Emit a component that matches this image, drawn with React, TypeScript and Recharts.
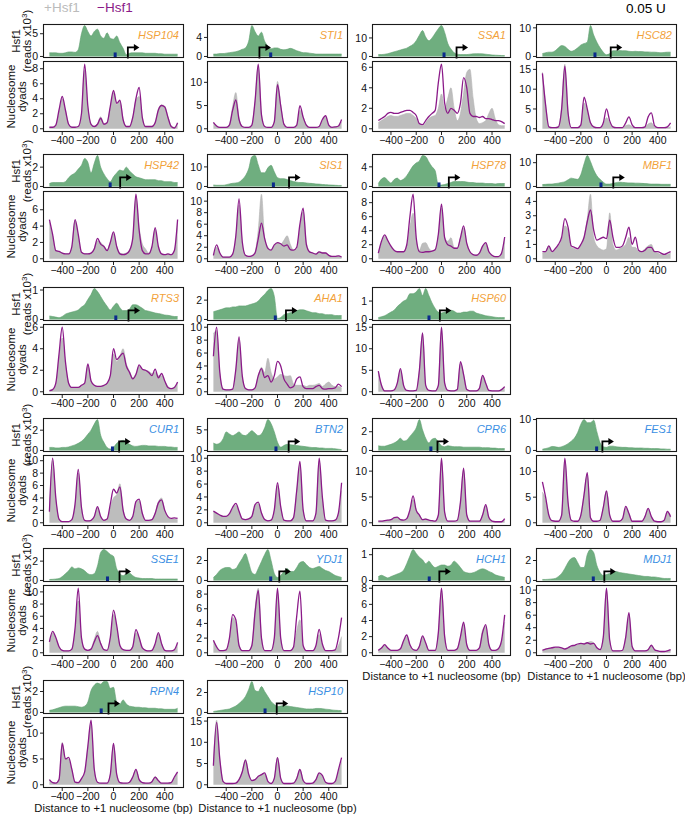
import React from "react";
import { AreaChart, Area, ComposedChart, Line, XAxis, YAxis, ReferenceDot } from "recharts";

// distance to +1 nucleosome (bp), shared by every profile
const BP = [
  -500, -475, -450, -425, -400, -375, -350, -325, -300,
  -275, -250, -225, -200, -175, -150, -125, -100,
  -75, -50, -25, 0, 25, 50, 75, 100,
  125, 150, 175, 200, 225, 250, 275, 300,
  325, 350, 375, 400, 425, 450, 475, 500,
];
const X_TICKS = [-400, -200, 0, 200, 400];

// ---- HSP104
const HSP104_HSF1 = [
  0.8, 0.8, 0.8, 0.7, 0.7, 0.8, 1.0, 1.0, 0.9,
  1.5, 5.0, 6.8, 5.5, 4.5, 5.5, 6.0, 4.5,
  4.0, 5.2, 4.0, 3.8, 4.5, 3.0, 1.8, 0.4,
  0.7, 0.8, 0.8, 0.8, 0.8, 0.7, 0.7, 0.7,
  0.7, 0.6, 0.6, 0.5, 0.5, 0.5, 0.5, 0.5,
];
const HSP104_MINUS = [
  0.2, 0.2, 0.5, 2.5, 4.3, 2.5, 0.6, 0.2, 0.2,
  0.3, 2.0, 8.6, 3.0, 0.6, 0.3, 0.6, 1.4,
  0.6, 0.8, 3.0, 5.1, 3.4, 3.8, 1.2, 0.3,
  0.3, 1.5, 4.0, 5.5, 1.5, 0.3, 0.3, 0.3,
  0.8, 2.5, 3.1, 2.9, 1.5, 0.3, 0.1, 0.8,
];
const HSP104_PLUS = [
  0.2, 0.2, 0.5, 2.3, 4.0, 2.4, 0.6, 0.2, 0.2,
  0.3, 1.8, 7.8, 2.8, 0.6, 0.3, 0.7, 1.6,
  0.7, 0.9, 2.8, 4.8, 3.2, 3.7, 1.3, 0.3,
  0.3, 1.4, 3.8, 4.3, 1.5, 0.3, 0.3, 0.3,
  0.9, 2.6, 3.2, 3.0, 1.6, 0.4, 0.2, 0.7,
];

// ---- STI1
const STI1_HSF1 = [
  0.5, 0.5, 0.6, 0.6, 0.7, 0.8, 0.9, 1.0, 1.2,
  1.5, 1.8, 3.2, 6.5, 5.2, 4.3, 5.1, 3.2,
  2.2, 1.6, 1.8, 1.8, 1.5, 1.4, 1.5, 1.7,
  1.5, 1.2, 1.0, 0.8, 0.8, 0.7, 0.6, 0.5,
  0.5, 0.5, 0.5, 0.5, 0.5, 0.5, 0.5, 0.5,
];
const STI1_MINUS = [
  1.4, 0.6, 0.3, 0.3, 0.3, 0.8, 4.0, 6.2, 2.0,
  0.5, 0.3, 0.3, 0.8, 6.0, 13.9, 3.0, 0.5,
  0.3, 0.3, 1.5, 9.5, 5.0, 1.0, 0.3, 0.3,
  0.3, 0.8, 5.0, 2.5, 0.8, 0.3, 0.3, 0.3,
  0.5, 2.0, 2.8, 0.8, 0.3, 0.4, 0.6, 2.0,
];
const STI1_PLUS = [
  1.3, 0.6, 0.3, 0.3, 0.3, 1.0, 4.8, 7.8, 2.3,
  0.5, 0.3, 0.3, 0.8, 6.0, 13.7, 3.0, 0.5,
  0.3, 0.3, 1.6, 10.2, 5.2, 1.0, 0.3, 0.3,
  0.3, 0.7, 4.0, 2.6, 0.8, 0.3, 0.3, 0.3,
  0.5, 1.8, 2.5, 0.8, 0.3, 0.4, 0.5, 1.5,
];

// ---- SSA1
const SSA1_HSF1 = [
  1.0, 1.0, 1.2, 1.5, 2.0, 2.5, 3.0, 3.5, 4.0,
  4.5, 5.5, 6.5, 8.5, 11.5, 14.0, 10.5, 8.5,
  10.0, 12.5, 15.0, 16.7, 13.0, 7.0, 4.0, 2.0,
  1.2, 1.0, 1.0, 1.0, 1.2, 1.4, 1.5, 1.5,
  1.4, 1.2, 1.0, 0.8, 0.7, 0.6, 0.5, 0.5,
];
const SSA1_MINUS = [
  0.8, 1.0, 1.2, 1.5, 1.6, 1.5, 1.5, 1.6, 1.7,
  1.8, 1.8, 1.6, 1.3, 0.5, 0.4, 0.8, 1.2,
  1.5, 1.8, 4.5, 6.3, 2.5, 1.5, 2.0, 1.8,
  1.5, 2.5, 5.0, 4.0, 1.5, 1.2, 1.2, 1.1,
  1.2, 1.0, 1.0, 0.9, 0.8, 0.8, 0.7, 0.5,
];
const SSA1_PLUS = [
  0.6, 0.8, 1.0, 1.2, 1.3, 1.2, 1.2, 1.3, 1.4,
  1.5, 1.5, 1.3, 1.0, 0.4, 0.3, 0.6, 1.0,
  1.2, 1.3, 2.0, 3.4, 2.0, 3.0, 4.0, 2.0,
  0.8, 1.5, 3.5, 5.5, 5.8, 3.0, 1.0, 0.5,
  0.6, 0.8, 1.5, 2.0, 1.0, 0.4, 0.3, 0.3,
];

// ---- HSC82
const HSC82_HSF1 = [
  1.0, 1.3, 1.5, 1.5, 2.0, 3.0, 3.8, 3.5, 2.5,
  1.8, 2.2, 3.0, 4.0, 4.5, 5.0, 10.8, 7.5,
  5.0, 3.0, 1.5, 0.6, 1.0, 2.0, 2.0, 2.1,
  2.0, 2.0, 1.8, 1.7, 1.8, 1.7, 1.7, 1.6,
  1.6, 1.5, 1.5, 1.4, 1.3, 1.4, 1.5, 1.5,
];
const HSC82_MINUS = [
  14.0, 6.0, 0.5, 0.3, 0.3, 0.5, 5.0, 15.8, 4.0,
  0.3, 0.3, 0.3, 1.0, 8.0, 5.0, 1.5, 0.5,
  0.3, 0.3, 1.5, 5.0, 2.0, 0.5, 0.3, 0.3,
  0.3, 1.5, 3.0, 1.0, 0.3, 0.3, 0.3, 0.5,
  3.0, 4.0, 0.8, 0.3, 0.3, 0.3, 0.5, 1.5,
];
const HSC82_PLUS = [
  14.3, 6.0, 0.4, 0.3, 0.3, 0.5, 5.5, 16.3, 4.5,
  0.3, 0.3, 0.3, 0.9, 6.5, 4.5, 1.5, 0.5,
  0.3, 0.3, 1.2, 2.8, 1.5, 0.5, 0.3, 0.3,
  0.3, 0.8, 1.0, 0.5, 0.3, 0.3, 0.3, 0.4,
  1.2, 1.5, 0.5, 0.3, 0.3, 0.3, 0.3, 0.5,
];

// ---- HSP42
const HSP42_HSF1 = [
  0.3, 0.4, 0.4, 0.4, 0.4, 0.5, 0.9, 1.2, 1.4,
  1.8, 2.2, 2.9, 2.5, 1.4, 2.4, 3.2, 2.0,
  1.3, 0.8, 0.5, 1.0, 1.4, 1.7, 1.6, 2.0,
  1.6, 1.3, 1.0, 0.9, 0.8, 0.7, 0.7, 0.7,
  0.7, 0.6, 0.6, 0.5, 0.5, 0.5, 0.4, 0.4,
];
const HSP42_MINUS = [
  4.8, 3.0, 1.0, 0.9, 0.7, 0.6, 0.6, 1.5, 4.8,
  3.0, 0.8, 0.6, 0.6, 0.7, 1.2, 2.5, 1.8,
  1.5, 1.0, 2.0, 3.3, 1.5, 0.6, 0.5, 0.6,
  1.0, 2.5, 7.9, 3.5, 1.0, 0.6, 0.6, 1.5,
  3.8, 1.5, 0.6, 0.5, 0.6, 0.5, 1.0, 4.8,
];
const HSP42_PLUS = [
  4.5, 2.8, 1.0, 0.9, 0.7, 0.6, 0.6, 1.4, 4.7,
  2.8, 0.8, 0.6, 0.6, 0.7, 1.3, 2.2, 2.0,
  1.6, 1.1, 2.0, 3.1, 1.5, 0.7, 0.6, 0.7,
  1.1, 2.4, 7.5, 3.8, 1.8, 1.2, 0.7, 1.4,
  3.6, 1.5, 0.6, 0.5, 0.6, 0.5, 1.0, 4.5,
];

// ---- SIS1
const SIS1_HSF1 = [
  0.8, 0.6, 0.6, 0.6, 0.9, 1.3, 1.6, 1.8, 2.2,
  3.5, 5.5, 9.0, 15.2, 15.8, 11.0, 7.0, 7.0,
  9.5, 10.8, 7.5, 4.5, 4.0, 4.0, 3.5, 3.0,
  2.5, 2.2, 2.0, 2.0, 1.8, 1.6, 1.5, 1.3,
  1.2, 1.0, 0.9, 0.8, 0.7, 0.6, 0.5, 0.5,
];
const SIS1_MINUS = [
  0.6, 2.4, 1.0, 0.3, 0.3, 0.3, 0.8, 4.0, 10.4,
  3.0, 0.6, 0.4, 0.5, 1.0, 3.5, 6.2, 3.5,
  1.8, 1.5, 2.4, 2.8, 2.6, 2.2, 2.4, 1.6,
  1.5, 2.0, 6.0, 8.8, 2.5, 1.2, 1.0, 0.8,
  1.2, 1.0, 1.0, 0.6, 0.4, 0.4, 0.5, 0.3,
];
const SIS1_PLUS = [
  0.5, 2.0, 0.9, 0.3, 0.3, 0.3, 0.8, 3.8, 9.3,
  2.8, 0.6, 0.4, 0.5, 1.2, 5.0, 11.2, 3.5,
  2.0, 1.5, 2.2, 2.8, 2.5, 3.2, 4.0, 2.5,
  1.5, 1.8, 5.5, 8.2, 2.8, 1.3, 1.0, 0.9,
  1.2, 1.1, 1.0, 0.6, 0.4, 0.4, 0.5, 0.3,
];

// ---- HSP78
const HSP78_HSF1 = [
  0.6, 1.5, 1.8, 1.2, 0.7, 1.4, 1.7, 1.2, 1.5,
  2.2, 3.2, 4.2, 4.8, 5.2, 6.3, 6.1, 5.0,
  4.0, 3.2, 0.3, 0.3, 0.4, 0.6, 0.8, 1.0,
  1.0, 1.0, 1.0, 0.9, 0.8, 0.8, 0.7, 0.7,
  0.7, 0.6, 0.6, 0.6, 0.5, 0.6, 0.6, 0.6,
];
const HSP78_MINUS = [
  0.8, 2.5, 3.4, 2.6, 1.8, 1.2, 1.0, 1.0, 1.0,
  2.0, 6.0, 9.2, 3.0, 1.0, 0.9, 1.0, 1.0,
  1.1, 1.3, 3.5, 7.8, 3.0, 2.0, 1.8, 1.5,
  1.5, 3.0, 4.7, 2.2, 1.0, 0.6, 0.5, 0.8,
  1.8, 2.3, 1.0, 0.5, 0.3, 0.3, 0.8, 3.1,
];
const HSP78_PLUS = [
  0.8, 2.3, 3.2, 2.5, 1.7, 1.1, 1.0, 1.0, 1.0,
  1.8, 4.5, 6.5, 2.8, 1.2, 2.2, 2.3, 1.5,
  1.1, 1.3, 3.3, 7.3, 3.0, 2.5, 3.0, 1.6,
  1.5, 2.9, 4.4, 2.2, 1.0, 0.6, 0.5, 0.8,
  1.7, 2.2, 1.0, 0.5, 0.3, 0.3, 0.7, 2.8,
];

// ---- MBF1
const MBF1_HSF1 = [
  0.8, 0.9, 1.0, 1.0, 1.2, 1.4, 1.7, 2.0, 2.8,
  3.5, 3.2, 3.0, 5.0, 9.5, 13.0, 10.5, 7.0,
  4.5, 3.0, 1.8, 1.0, 1.0, 1.3, 1.6, 1.8,
  1.7, 1.6, 1.5, 1.5, 1.4, 1.4, 1.3, 1.2,
  1.1, 1.0, 1.0, 1.0, 0.9, 0.9, 0.9, 0.9,
];
const MBF1_MINUS = [
  0.5, 0.5, 0.9, 0.5, 0.7, 1.0, 1.5, 2.8, 2.2,
  0.9, 0.8, 0.7, 1.0, 1.5, 2.6, 3.4, 2.0,
  1.3, 1.4, 1.5, 1.4, 2.7, 1.5, 0.8, 0.8,
  0.9, 1.5, 2.2, 1.0, 1.5, 0.6, 0.5, 0.6,
  0.8, 0.8, 0.5, 0.5, 0.4, 0.3, 0.4, 0.5,
];
const MBF1_PLUS = [
  0.4, 0.5, 0.9, 0.5, 0.6, 0.9, 1.3, 2.3, 2.0,
  0.8, 0.7, 0.6, 0.9, 1.5, 2.8, 4.5, 1.5,
  0.9, 0.7, 0.6, 0.7, 3.2, 1.0, 0.6, 0.7,
  0.8, 1.0, 1.5, 0.8, 0.8, 0.5, 0.5, 0.7,
  0.9, 1.0, 0.5, 0.4, 0.3, 0.3, 0.3, 0.4,
];

// ---- RTS3
const RTS3_HSF1 = [
  0.12, 0.1, 0.08, 0.06, 0.1, 0.18, 0.22, 0.25, 0.28,
  0.32, 0.42, 0.5, 0.68, 0.85, 1.05, 0.95, 0.78,
  0.6, 0.45, 0.32, 0.45, 0.55, 0.4, 0.3, 0.3,
  0.35, 0.5, 0.5, 0.45, 0.38, 0.3, 0.28, 0.25,
  0.22, 0.2, 0.18, 0.15, 0.14, 0.12, 0.1, 0.1,
];
const RTS3_MINUS = [
  0.1, 0.2, 0.8, 3.5, 6.0, 2.8, 0.8, 0.4, 0.4,
  0.4, 0.6, 0.8, 2.6, 1.0, 0.6, 0.5, 0.5,
  0.6, 0.8, 1.5, 4.0, 3.0, 3.3, 3.6, 2.4,
  1.8, 1.2, 1.6, 2.5, 2.1, 2.0, 1.8, 1.5,
  2.1, 1.3, 1.7, 1.0, 0.4, 0.3, 0.4, 0.9,
];
const RTS3_PLUS = [
  0.1, 0.2, 0.7, 3.2, 5.0, 2.6, 0.8, 0.4, 0.4,
  0.4, 0.6, 0.8, 2.4, 1.0, 0.6, 0.5, 0.5,
  0.6, 0.8, 1.4, 3.5, 2.8, 3.3, 4.0, 2.6,
  1.9, 1.3, 1.7, 2.4, 2.0, 2.0, 1.9, 1.7,
  1.8, 1.5, 1.5, 1.0, 0.5, 0.3, 0.4, 0.8,
];

// ---- AHA1
const AHA1_HSF1 = [
  0.8, 0.9, 1.0, 1.1, 1.2, 1.2, 1.3, 1.3, 1.4,
  1.4, 1.4, 1.5, 1.6, 1.7, 1.9, 2.3, 2.6,
  3.0, 3.2, 2.4, 0.1, 0.2, 0.5, 0.6, 0.7,
  0.8, 0.9, 1.0, 1.0, 0.9, 0.8, 0.7, 0.7,
  0.6, 0.6, 0.5, 0.5, 0.5, 0.4, 0.4, 0.4,
];
const AHA1_MINUS = [
  5.5, 10.0, 3.0, 0.4, 0.3, 0.3, 0.4, 3.5, 8.5,
  2.5, 0.5, 0.3, 0.3, 0.6, 2.5, 3.6, 2.2,
  2.5, 1.5, 2.5, 4.7, 4.0, 2.0, 1.2, 0.6,
  0.8, 2.0, 2.3, 0.8, 0.5, 0.5, 0.5, 0.8,
  1.0, 0.5, 0.4, 0.5, 0.5, 0.6, 1.2, 0.8,
];
const AHA1_PLUS = [
  9.0, 9.5, 2.8, 0.4, 0.3, 0.3, 0.4, 3.3, 8.0,
  2.3, 0.5, 0.3, 0.3, 0.6, 2.5, 3.8, 3.0,
  5.2, 3.0, 2.0, 2.3, 2.7, 2.5, 2.4, 2.5,
  1.2, 1.0, 1.0, 1.0, 0.8, 1.0, 1.0, 1.1,
  1.3, 0.8, 1.2, 1.5, 1.0, 0.8, 0.8, 0.6,
];

// ---- HSP60
const HSP60_HSF1 = [
  0.1, 0.15, 0.2, 0.3, 0.4, 0.5, 0.7, 0.85, 1.0,
  1.1, 1.4, 1.4, 1.5, 1.68, 1.3, 1.68, 1.3,
  0.9, 0.6, 0.4, 0.35, 0.4, 0.45, 0.5, 0.45,
  0.35, 0.35, 0.4, 0.4, 0.45, 0.45, 0.35, 0.3,
  0.25, 0.2, 0.18, 0.15, 0.12, 0.1, 0.1, 0.1,
];
const HSP60_MINUS = [
  4.8, 1.5, 0.2, 0.2, 0.2, 0.4, 2.0, 5.4, 1.5,
  0.3, 0.2, 0.2, 0.3, 5.0, 13.7, 1.5, 0.3,
  0.2, 0.2, 1.5, 15.0, 2.0, 0.3, 0.2, 0.2,
  0.5, 7.0, 4.0, 0.5, 0.2, 0.2, 0.2, 0.8,
  3.8, 2.0, 0.3, 0.2, 0.2, 0.2, 0.5, 1.2,
];
const HSP60_PLUS = [
  4.6, 1.5, 0.2, 0.2, 0.2, 0.4, 2.0, 5.0, 1.5,
  0.3, 0.2, 0.2, 0.3, 5.0, 13.5, 1.5, 0.3,
  0.2, 0.2, 1.5, 14.8, 2.0, 0.3, 0.2, 0.2,
  0.5, 6.5, 4.0, 0.5, 0.2, 0.2, 0.2, 0.8,
  3.6, 2.0, 0.3, 0.2, 0.2, 0.2, 0.5, 1.1,
];

// ---- CUR1
const CUR1_HSF1 = [
  0.3, 0.3, 0.25, 0.25, 0.3, 0.3, 0.35, 0.45, 0.55,
  0.7, 0.9, 1.2, 1.6, 2.0, 2.6, 3.05, 1.5,
  0.8, 0.3, 0.15, 0.3, 0.7, 0.9, 1.0, 0.8,
  0.6, 0.45, 0.4, 0.45, 0.5, 0.5, 0.45, 0.45,
  0.45, 0.4, 0.4, 0.4, 0.35, 0.35, 0.3, 0.3,
];
const CUR1_MINUS = [
  1.8, 10.4, 4.0, 0.6, 0.2, 0.2, 0.2, 0.5, 3.0,
  8.6, 2.5, 0.4, 0.3, 0.4, 1.0, 2.6, 1.0,
  0.4, 0.6, 3.0, 5.4, 4.8, 5.8, 2.0, 0.6,
  0.4, 1.0, 3.4, 3.8, 1.5, 0.4, 0.4, 0.5,
  1.5, 3.2, 3.7, 2.0, 1.0, 0.7, 0.8, 0.7,
];
const CUR1_PLUS = [
  1.7, 10.0, 3.8, 0.6, 0.2, 0.2, 0.2, 0.5, 2.8,
  8.0, 2.4, 0.4, 0.3, 0.4, 1.0, 2.4, 1.0,
  0.4, 0.6, 2.5, 4.0, 4.5, 6.3, 2.2, 0.6,
  0.4, 1.0, 3.2, 3.6, 1.5, 0.4, 0.4, 0.5,
  1.6, 3.4, 4.0, 2.0, 0.9, 0.6, 0.6, 0.5,
];

// ---- BTN2
const BTN2_HSF1 = [
  1.8, 1.5, 1.8, 2.8, 4.5, 4.0, 3.6, 4.0, 4.5,
  3.8, 3.6, 4.2, 4.8, 4.2, 3.6, 4.0, 5.5,
  7.5, 6.5, 4.5, 2.0, 0.8, 1.2, 1.5, 1.4,
  1.3, 1.2, 1.1, 1.0, 0.9, 0.8, 0.7, 0.7,
  0.6, 0.6, 0.5, 0.5, 0.5, 0.4, 0.3, 0.2,
];
const BTN2_MINUS = [
  1.8, 1.5, 1.2, 1.0, 1.0, 1.4, 2.4, 3.0, 1.8,
  0.6, 0.5, 0.6, 1.0, 2.8, 3.2, 1.5, 0.5,
  0.3, 0.4, 2.0, 6.2, 2.5, 0.4, 0.3, 0.3,
  0.8, 5.0, 9.5, 2.0, 0.3, 0.3, 0.3, 1.5,
  10.0, 4.0, 0.4, 0.3, 0.3, 0.4, 1.5, 6.2,
];
const BTN2_PLUS = [
  1.8, 1.5, 1.2, 1.0, 1.0, 1.3, 2.2, 2.7, 1.7,
  0.6, 0.5, 0.6, 1.0, 2.6, 3.0, 1.5, 0.5,
  0.3, 0.4, 1.8, 5.8, 2.4, 0.4, 0.3, 0.3,
  0.8, 4.8, 9.0, 2.0, 0.3, 0.3, 0.3, 1.4,
  9.5, 3.8, 0.4, 0.3, 0.3, 0.4, 1.3, 5.0,
];

// ---- CPR6
const CPR6_HSF1 = [
  0.5, 0.45, 0.45, 0.55, 0.65, 0.8, 1.0, 1.3, 1.0,
  1.1, 1.5, 1.9, 2.4, 3.3, 2.2, 1.3, 0.8,
  1.2, 1.3, 0.9, 0.5, 0.4, 0.5, 0.45, 0.4,
  0.4, 0.4, 0.35, 0.35, 0.35, 0.35, 0.35, 0.35,
  0.3, 0.3, 0.3, 0.25, 0.25, 0.2, 0.2, 0.2,
];
const CPR6_MINUS = [
  0.3, 0.3, 0.4, 0.5, 0.6, 1.0, 1.1, 0.6, 0.5,
  0.8, 2.5, 5.2, 2.4, 1.5, 0.6, 0.7, 0.5,
  0.4, 0.3, 1.5, 12.5, 2.0, 0.3, 0.3, 0.3,
  0.5, 4.0, 10.6, 1.5, 0.3, 0.3, 0.3, 0.3,
  1.5, 3.5, 1.0, 0.3, 0.2, 0.2, 0.2, 0.8,
];
const CPR6_PLUS = [
  0.3, 0.3, 0.4, 0.5, 0.6, 0.9, 1.0, 0.6, 0.5,
  0.8, 2.3, 4.5, 2.5, 1.5, 0.6, 0.8, 0.5,
  0.4, 0.3, 1.4, 12.2, 2.0, 0.3, 0.3, 0.3,
  0.5, 3.8, 10.2, 1.5, 0.3, 0.3, 0.3, 0.3,
  1.4, 3.3, 1.0, 0.3, 0.2, 0.2, 0.2, 0.7,
];

// ---- FES1
const FES1_HSF1 = [
  0.4, 0.6, 0.9, 1.3, 1.2, 1.0, 1.2, 1.6, 2.2,
  3.0, 4.0, 5.8, 8.5, 10.0, 9.0, 9.0, 9.8,
  6.0, 2.5, 1.2, 1.0, 1.4, 1.4, 1.2, 1.1,
  1.0, 1.0, 0.9, 0.9, 0.8, 0.8, 0.8, 0.7,
  0.7, 0.6, 0.6, 0.6, 0.5, 0.5, 0.4, 0.4,
];
const FES1_MINUS = [
  8.0, 5.0, 1.5, 0.4, 0.3, 0.3, 1.5, 12.6, 4.0,
  0.5, 0.3, 0.3, 1.5, 5.5, 9.8, 1.0, 0.3,
  0.3, 0.5, 3.0, 6.2, 1.5, 0.3, 0.3, 0.3,
  0.8, 3.2, 1.8, 0.3, 0.3, 0.3, 0.3, 1.2,
  2.8, 1.2, 0.3, 0.2, 0.2, 0.5, 2.2, 1.2,
];
const FES1_PLUS = [
  6.0, 4.5, 1.5, 0.4, 0.3, 0.3, 1.5, 12.3, 4.0,
  0.5, 0.3, 0.3, 1.5, 5.5, 9.6, 1.0, 0.3,
  0.3, 0.5, 3.0, 6.2, 1.5, 0.3, 0.3, 0.3,
  0.8, 3.0, 1.8, 0.3, 0.3, 0.3, 0.3, 1.2,
  2.7, 1.2, 0.3, 0.2, 0.2, 0.5, 2.0, 1.0,
];

// ---- SSE1
const SSE1_HSF1 = [
  0.1, 0.12, 0.15, 0.2, 0.4, 0.7, 1.0, 1.4, 1.2,
  1.3, 1.2, 1.0, 0.7, 0.6, 0.7, 1.5, 2.9,
  3.2, 3.0, 2.7, 2.5, 1.2, 0.7, 0.5, 0.7,
  0.75, 0.5, 0.3, 0.25, 0.2, 0.2, 0.2, 0.2,
  0.15, 0.15, 0.15, 0.15, 0.15, 0.15, 0.15, 0.15,
];
const SSE1_MINUS = [
  1.8, 3.5, 2.5, 1.0, 0.4, 0.3, 0.3, 0.6, 4.0,
  10.6, 2.5, 0.6, 0.4, 0.6, 1.8, 2.8, 1.5,
  0.5, 0.4, 2.5, 7.0, 4.5, 1.2, 0.5, 0.4,
  0.4, 1.0, 3.8, 2.5, 0.8, 0.4, 0.3, 0.4,
  1.5, 3.3, 1.5, 0.4, 0.3, 0.3, 0.5, 1.7,
];
const SSE1_PLUS = [
  1.8, 3.3, 2.4, 1.0, 0.4, 0.3, 0.3, 0.6, 3.5,
  8.5, 2.3, 0.6, 0.4, 0.7, 2.2, 3.5, 1.6,
  0.5, 0.4, 2.3, 6.3, 4.2, 1.2, 0.5, 0.4,
  0.4, 1.0, 3.3, 2.4, 0.8, 0.4, 0.3, 0.4,
  1.4, 3.1, 1.5, 0.4, 0.3, 0.3, 0.5, 1.5,
];

// ---- YDJ1
const YDJ1_HSF1 = [
  0.3, 0.6, 1.0, 1.2, 1.3, 1.3, 1.1, 1.2, 1.7,
  2.2, 2.7, 1.8, 0.8, 0.6, 1.2, 1.9, 2.6,
  3.1, 2.0, 0.7, 0.3, 0.5, 0.9, 1.2, 0.9,
  0.9, 1.3, 1.8, 1.9, 1.6, 1.3, 1.2, 1.3,
  1.4, 1.2, 1.0, 0.9, 0.7, 0.5, 0.4, 0.3,
];
const YDJ1_MINUS = [
  1.7, 0.8, 0.3, 0.3, 0.4, 2.0, 5.2, 4.5, 1.0,
  0.3, 0.3, 0.3, 1.0, 5.5, 8.5, 2.0, 0.3,
  0.3, 0.3, 2.0, 8.8, 2.0, 0.3, 0.3, 0.3,
  0.8, 5.0, 8.4, 1.0, 0.3, 0.3, 0.3, 1.0,
  3.2, 1.2, 0.3, 0.3, 0.3, 0.4, 2.0, 4.8,
];
const YDJ1_PLUS = [
  1.6, 0.8, 0.3, 0.3, 0.4, 1.8, 4.8, 4.0, 1.0,
  0.3, 0.3, 0.3, 1.0, 6.0, 8.8, 2.0, 0.3,
  0.3, 0.3, 1.8, 8.2, 1.8, 0.3, 0.3, 0.3,
  0.6, 3.0, 4.5, 0.8, 0.3, 0.3, 0.3, 0.8,
  2.5, 1.0, 0.3, 0.3, 0.3, 0.4, 1.0, 2.2,
];

// ---- HCH1
const HCH1_HSF1 = [
  0.15, 0.2, 0.15, 0.1, 0.15, 0.2, 0.25, 0.3, 0.4,
  0.65, 0.95, 1.2, 1.05, 0.9, 0.8, 0.65, 0.75,
  0.6, 0.5, 0.55, 0.6, 0.6, 0.55, 0.6, 0.75,
  0.65, 0.5, 0.35, 0.3, 0.28, 0.3, 0.35, 0.42,
  0.45, 0.42, 0.35, 0.3, 0.22, 0.18, 0.15, 0.12,
];
const HCH1_MINUS = [
  0.3, 0.6, 1.0, 0.6, 0.3, 0.3, 0.3, 0.5, 1.5,
  2.2, 1.0, 0.4, 0.3, 0.8, 2.1, 1.2, 0.3,
  0.3, 0.3, 2.5, 8.0, 2.0, 0.3, 0.3, 0.3,
  0.5, 2.0, 3.8, 1.0, 0.3, 0.3, 0.3, 0.6,
  2.5, 3.5, 1.0, 0.3, 0.3, 0.5, 1.5, 4.7,
];
const HCH1_PLUS = [
  0.3, 0.6, 0.9, 0.6, 0.3, 0.3, 0.3, 0.5, 1.4,
  2.0, 1.0, 0.4, 0.3, 0.8, 2.0, 1.2, 0.3,
  0.3, 0.3, 2.4, 7.8, 2.0, 0.3, 0.3, 0.3,
  0.5, 1.9, 3.6, 1.0, 0.3, 0.3, 0.3, 0.6,
  2.8, 3.3, 1.0, 0.3, 0.3, 0.5, 1.4, 3.8,
];

// ---- MDJ1
const MDJ1_HSF1 = [
  0.1, 0.1, 0.12, 0.15, 0.2, 0.4, 0.7, 1.2, 1.8,
  2.2, 2.3, 1.8, 1.3, 1.3, 2.6, 3.1, 2.8,
  1.5, 0.8, 0.5, 0.6, 0.7, 0.8, 0.9, 0.8,
  0.75, 0.7, 0.65, 0.6, 0.55, 0.5, 0.45, 0.4,
  0.4, 0.35, 0.35, 0.3, 0.25, 0.2, 0.2, 0.2,
];
const MDJ1_MINUS = [
  0.4, 0.6, 0.7, 0.8, 0.9, 0.9, 0.8, 0.6, 0.8,
  1.1, 1.2, 1.4, 1.5, 1.4, 1.6, 1.4, 1.5,
  0.8, 0.5, 2.5, 10.3, 2.0, 0.3, 0.3, 0.3,
  0.4, 2.5, 6.4, 1.0, 0.3, 0.3, 0.3, 0.3,
  0.5, 1.2, 0.5, 0.3, 0.2, 0.2, 0.3, 0.5,
];
const MDJ1_PLUS = [
  0.4, 0.6, 0.7, 0.8, 0.8, 0.8, 0.7, 0.6, 0.8,
  1.0, 1.1, 1.3, 1.4, 1.5, 1.6, 1.8, 1.6,
  0.8, 0.5, 2.4, 10.0, 2.0, 0.3, 0.3, 0.3,
  0.4, 2.4, 6.2, 1.0, 0.3, 0.3, 0.3, 0.3,
  0.5, 1.2, 0.5, 0.3, 0.2, 0.2, 0.3, 0.5,
];

// ---- RPN4
const RPN4_HSF1 = [
  0.2, 0.25, 0.35, 0.45, 0.55, 0.6, 0.6, 0.6, 0.6,
  0.55, 0.5, 0.6, 1.0, 2.1, 2.6, 2.8, 2.7,
  2.95, 2.95, 2.3, 2.4, 1.0, 0.8, 1.2, 0.8,
  0.6, 0.55, 0.5, 0.5, 0.45, 0.45, 0.4, 0.4,
  0.4, 0.35, 0.35, 0.3, 0.3, 0.3, 0.3, 0.4,
];
const RPN4_MINUS = [
  1.0, 0.4, 0.3, 1.0, 8.0, 5.0, 5.3, 3.0, 0.5,
  0.4, 1.2, 2.5, 7.5, 12.5, 3.0, 0.5, 0.3,
  0.3, 0.3, 2.0, 8.0, 2.0, 0.4, 0.3, 0.3,
  0.5, 1.5, 3.0, 1.0, 0.4, 0.3, 0.3, 0.6,
  1.5, 0.8, 0.3, 0.3, 0.3, 0.4, 1.5, 2.5,
];
const RPN4_PLUS = [
  1.0, 0.4, 0.3, 1.0, 8.2, 5.0, 5.0, 2.8, 0.5,
  0.4, 1.1, 2.3, 7.2, 12.0, 3.0, 0.5, 0.3,
  0.3, 0.3, 1.9, 7.8, 2.0, 0.4, 0.3, 0.3,
  0.5, 1.5, 2.9, 1.0, 0.4, 0.3, 0.3, 0.6,
  1.6, 0.9, 0.3, 0.3, 0.3, 0.4, 1.4, 2.3,
];

// ---- HSP10
const HSP10_HSF1 = [
  0.1, 0.15, 0.2, 0.25, 0.3, 0.35, 0.5, 0.65, 0.9,
  1.2, 1.6, 2.3, 3.1, 2.2, 2.1, 2.6, 2.1,
  1.6, 1.1, 0.8, 0.6, 0.65, 0.7, 0.65, 0.6,
  0.55, 0.5, 0.45, 0.4, 0.35, 0.35, 0.35, 0.4,
  0.4, 0.38, 0.33, 0.3, 0.25, 0.22, 0.2, 0.18,
];
const HSP10_MINUS = [
  4.5, 14.7, 6.0, 0.8, 0.3, 0.3, 0.3, 0.4, 1.2,
  3.0, 5.8, 2.5, 1.0, 1.2, 2.0, 2.4, 2.8,
  0.8, 0.3, 1.5, 6.4, 1.5, 0.3, 0.3, 0.3,
  0.4, 1.5, 3.6, 1.0, 0.3, 0.3, 0.4, 1.2,
  2.8, 2.2, 0.6, 0.3, 0.3, 0.8, 3.5, 6.4,
];
const HSP10_PLUS = [
  4.8, 15.2, 6.2, 0.8, 0.3, 0.3, 0.3, 0.4, 1.3,
  3.2, 6.0, 2.6, 1.0, 1.2, 2.0, 2.4, 2.6,
  0.8, 0.3, 1.5, 6.5, 1.5, 0.3, 0.3, 0.3,
  0.4, 1.6, 3.6, 1.0, 0.3, 0.3, 0.4, 1.2,
  2.7, 2.0, 0.6, 0.3, 0.3, 0.7, 3.0, 5.5,
];

const GENES = [
  "HSP104", "STI1", "SSA1", "HSC82",
  "HSP42", "SIS1", "HSP78", "MBF1",
  "RTS3", "AHA1", "HSP60",
  "CUR1", "BTN2", "CPR6", "FES1",
  "SSE1", "YDJ1", "HCH1", "MDJ1",
  "RPN4", "HSP10",
];
// first group (orange names)
const GROUP_ONE = ["HSP104", "STI1", "SSA1", "HSC82", "HSP42", "SIS1", "HSP78", "MBF1", "RTS3", "AHA1", "HSP60"];
// panels that carry the x-axis title
const WITH_X_TITLE = ["HCH1", "MDJ1", "RPN4", "HSP10"];

const SERIES: Record<string, { hsf: number[]; plus: number[]; minus: number[] }> = {
  HSP104: { hsf: HSP104_HSF1, plus: HSP104_PLUS, minus: HSP104_MINUS },
  STI1: { hsf: STI1_HSF1, plus: STI1_PLUS, minus: STI1_MINUS },
  SSA1: { hsf: SSA1_HSF1, plus: SSA1_PLUS, minus: SSA1_MINUS },
  HSC82: { hsf: HSC82_HSF1, plus: HSC82_PLUS, minus: HSC82_MINUS },
  HSP42: { hsf: HSP42_HSF1, plus: HSP42_PLUS, minus: HSP42_MINUS },
  SIS1: { hsf: SIS1_HSF1, plus: SIS1_PLUS, minus: SIS1_MINUS },
  HSP78: { hsf: HSP78_HSF1, plus: HSP78_PLUS, minus: HSP78_MINUS },
  MBF1: { hsf: MBF1_HSF1, plus: MBF1_PLUS, minus: MBF1_MINUS },
  RTS3: { hsf: RTS3_HSF1, plus: RTS3_PLUS, minus: RTS3_MINUS },
  AHA1: { hsf: AHA1_HSF1, plus: AHA1_PLUS, minus: AHA1_MINUS },
  HSP60: { hsf: HSP60_HSF1, plus: HSP60_PLUS, minus: HSP60_MINUS },
  CUR1: { hsf: CUR1_HSF1, plus: CUR1_PLUS, minus: CUR1_MINUS },
  BTN2: { hsf: BTN2_HSF1, plus: BTN2_PLUS, minus: BTN2_MINUS },
  CPR6: { hsf: CPR6_HSF1, plus: CPR6_PLUS, minus: CPR6_MINUS },
  FES1: { hsf: FES1_HSF1, plus: FES1_PLUS, minus: FES1_MINUS },
  SSE1: { hsf: SSE1_HSF1, plus: SSE1_PLUS, minus: SSE1_MINUS },
  YDJ1: { hsf: YDJ1_HSF1, plus: YDJ1_PLUS, minus: YDJ1_MINUS },
  HCH1: { hsf: HCH1_HSF1, plus: HCH1_PLUS, minus: HCH1_MINUS },
  MDJ1: { hsf: MDJ1_HSF1, plus: MDJ1_PLUS, minus: MDJ1_MINUS },
  RPN4: { hsf: RPN4_HSF1, plus: RPN4_PLUS, minus: RPN4_MINUS },
  HSP10: { hsf: HSP10_HSF1, plus: HSP10_PLUS, minus: HSP10_MINUS },
};

// HSE (blue mark) and TSS (arrow) positions, bp, same order as GENES
const HSE_BP = [13, -53, 20, -90, -26, -32, -20, -43, 18, -17, -99, -8, -12, -84, -77, -47, -53, -97, -103, -96, -97];
const TSS_BP = [112, -141, 119, 33, 52, 90, 58, 53, 117, 66, -13, 44, 87, -32, -32, 47, 14, -17, -17, -39, -6];

const TOP_TICKS = [
  [0, 5], [0, 4], [0, 10], [0, 10],
  [0, 2], [0, 10], [0, 4], [0, 10],
  [0, 1], [0, 2], [0, 1],
  [0, 2], [0, 5], [0, 2], [0, 10],
  [0, 2], [0, 2], [0, 1], [0, 2],
  [0, 2], [0, 2],
];
const NUC_TICKS = [
  [0, 2, 4, 6, 8], [0, 5, 10], [0, 2, 4, 6], [0, 5, 10, 15],
  [0, 2, 4, 6], [0, 2, 4, 6, 8, 10], [0, 2, 4, 6, 8], [0, 1, 2, 3, 4],
  [0, 2, 4, 6], [0, 2, 4, 6, 8, 10], [0, 5, 10, 15],
  [0, 2, 4, 6, 8, 10], [0, 2, 4, 6, 8, 10], [0, 5, 10], [0, 5, 10],
  [0, 2, 4, 6, 8, 10], [0, 2, 4, 6, 8], [0, 2, 4, 6, 8], [0, 2, 4, 6, 8, 10],
  [0, 5, 10], [0, 5, 10, 15],
];

// layout of the grid of panels
const SLOTS = [
  [0, 0], [0, 1], [0, 2], [0, 3],
  [1, 0], [1, 1], [1, 2], [1, 3],
  [2, 0], [2, 1], [2, 2],
  [3, 0], [3, 1], [3, 2], [3, 3],
  [4, 0], [4, 1], [4, 2], [4, 3],
  [5, 0], [5, 1],
];
const COL_X = [43, 207, 372, 536];
const COL_W = [141, 141, 139, 141];
const ROW_Y = [24, 154, 287, 418, 548, 680];
const YW = 26;
const TOP_H = 34;
const NUC_GAP = 37;
const NUC_H = 71;
const XH = 16;

const FONT = "'Liberation Sans', Arial, Helvetica, sans-serif";
const GREEN = "#6fae7f";
const GRAY = "#bdbdbd";
const PURPLE = "#8b1a89";
const ORANGE = "#f2a23a";
const BLUE = "#3b8fe3";

const fmtX = (v: number) => (v < 0 ? `\u2212${-v}` : `${v}`);

const HseMark = (p: any) => (
  <rect x={p.cx - 1.5} y={p.cy - 4} width={3} height={5.5} fill="#0b2a8c" />
);

const TssArrow = (p: any) => (
  <g>
    <path d={`M${p.cx},${p.cy + 2} V${p.cy - 9} H${p.cx + 7}`} stroke="#000" strokeWidth={1.8} fill="none" />
    <path d={`M${p.cx + 6},${p.cy - 12.5} L${p.cx + 11.5},${p.cy - 9} L${p.cx + 6},${p.cy - 5.5} Z`} fill="#000" />
  </g>
);

const yTick = { fontSize: 10.5, fill: "#111" };

function GenePanel({ i }: { i: number }) {
  const name = GENES[i];
  const s = SERIES[name];
  const [r, c] = SLOTS[i];
  const left = COL_X[c];
  const w = COL_W[c];
  const top = ROW_Y[r];

  const hmax = Math.max(...s.hsf);
  const hdom = [-0.05 * hmax, 1.05 * hmax];
  const nmax = Math.max(...s.plus, ...s.minus);
  const ndom = [-0.05 * nmax, 1.05 * nmax];

  const topData = BP.map((x, k) => ({ x, y: s.hsf[k] }));
  const nucData = BP.map((x, k) => ({ x, plus: s.plus[k], minus: s.minus[k] }));

  return (
    <>
      <div style={{ position: "absolute", left: left - YW, top }}>
        <AreaChart width={YW + w} height={TOP_H} data={topData} margin={{ top: 0, right: 0, bottom: 0, left: 0 }}>
          <XAxis type="number" dataKey="x" domain={[-550, 550]} allowDataOverflow hide />
          <YAxis
            type="number"
            width={YW}
            domain={hdom}
            allowDataOverflow
            ticks={TOP_TICKS[i].filter((t) => t <= hdom[1])}
            interval={0}
            tickSize={3}
            axisLine={false}
            tickLine={{ stroke: "#222" }}
            tick={yTick}
          />
          <Area type="monotone" dataKey="y" fill={GREEN} fillOpacity={1} stroke="#5e9d6e" strokeWidth={0.6} isAnimationActive={false} />
          <ReferenceDot x={HSE_BP[i]} y={0} shape={HseMark} />
          <ReferenceDot x={TSS_BP[i]} y={0} shape={TssArrow} />
        </AreaChart>
      </div>
      <div style={{ position: "absolute", left: left - YW, top: top + NUC_GAP }}>
        <ComposedChart width={YW + w} height={NUC_H + XH} data={nucData} margin={{ top: 0, right: 0, bottom: 0, left: 0 }}>
          <XAxis
            type="number"
            dataKey="x"
            domain={[-550, 550]}
            allowDataOverflow
            ticks={X_TICKS}
            interval={0}
            height={XH}
            tickSize={3}
            axisLine={false}
            tickLine={{ stroke: "#222" }}
            tick={yTick}
            tickFormatter={fmtX}
          />
          <YAxis
            type="number"
            width={YW}
            domain={ndom}
            allowDataOverflow
            ticks={NUC_TICKS[i].filter((t) => t <= ndom[1])}
            interval={0}
            tickSize={3}
            axisLine={false}
            tickLine={{ stroke: "#222" }}
            tick={yTick}
          />
          <Area type="monotone" dataKey="plus" fill={GRAY} fillOpacity={1} stroke="#b2b2b2" strokeWidth={0.6} isAnimationActive={false} />
          <Line type="monotone" dataKey="minus" stroke={PURPLE} strokeWidth={1.3} dot={false} isAnimationActive={false} />
        </ComposedChart>
      </div>
    </>
  );
}

export default function App() {
  return (
    <div style={{ position: "absolute", left: 0, top: 0, width: 685, height: 816, background: "#fff", fontFamily: FONT, overflow: "hidden" }}>
      <style>{".recharts-surface{overflow:visible}"}</style>
      {GENES.map((g, i) => (
        <GenePanel key={g} i={i} />
      ))}
      <svg width={685} height={816} style={{ position: "absolute", left: 0, top: 0, pointerEvents: "none" }} fontFamily={FONT}>
        <text x={44} y={12} fontSize={13.5} fill="#bbbbbb">+Hsf1</text>
        <text x={97} y={12} fontSize={13.5} fill={PURPLE}>{"\u2212Hsf1"}</text>
        <text x={626} y={13} fontSize={13.5} fill="#000">0.05 U</text>

        {ROW_Y.map((y, r) => {
          const hc = y + TOP_H / 2;
          const nc = y + NUC_GAP + NUC_H / 2;
          return (
            <g key={`yl${r}`} fontSize={11.5} fill="#111" textAnchor="middle">
              <text transform={`translate(20,${hc}) rotate(-90)`}>Hsf1</text>
              <text transform={`translate(30.5,${hc}) rotate(-90)`}>
                (reads x10<tspan dy={-4} fontSize={8}>3</tspan><tspan dy={4}>)</tspan>
              </text>
              <text transform={`translate(14.5,${nc}) rotate(-90)`}>Nucleosome</text>
              <text transform={`translate(25.5,${nc}) rotate(-90)`}>dyads</text>
            </g>
          );
        })}

        {GENES.map((g, i) => {
          const [r, c] = SLOTS[i];
          const left = COL_X[c];
          const w = COL_W[c];
          const top = ROW_Y[r];
          const nt = top + NUC_GAP;
          return (
            <g key={`f${g}`}>
              <rect x={left + 0.5} y={top + 0.5} width={w - 1} height={TOP_H - 1} fill="none" stroke="#1a1a1a" strokeWidth={1.1} />
              <rect x={left + 0.5} y={nt + 0.5} width={w - 1} height={NUC_H - 1} fill="none" stroke="#1a1a1a" strokeWidth={1.1} />
              <text x={left + w - 5} y={top + 15} fontSize={11} fontStyle="italic" textAnchor="end" fill={GROUP_ONE.includes(g) ? ORANGE : BLUE}>
                {g}
              </text>
              {WITH_X_TITLE.includes(g) && (
                <text x={left + w / 2} y={nt + NUC_H + 24} fontSize={11.2} textAnchor="middle" fill="#111">
                  Distance to +1 nucleosome (bp)
                </text>
              )}
            </g>
          );
        })}
      </svg>
    </div>
  );
}
